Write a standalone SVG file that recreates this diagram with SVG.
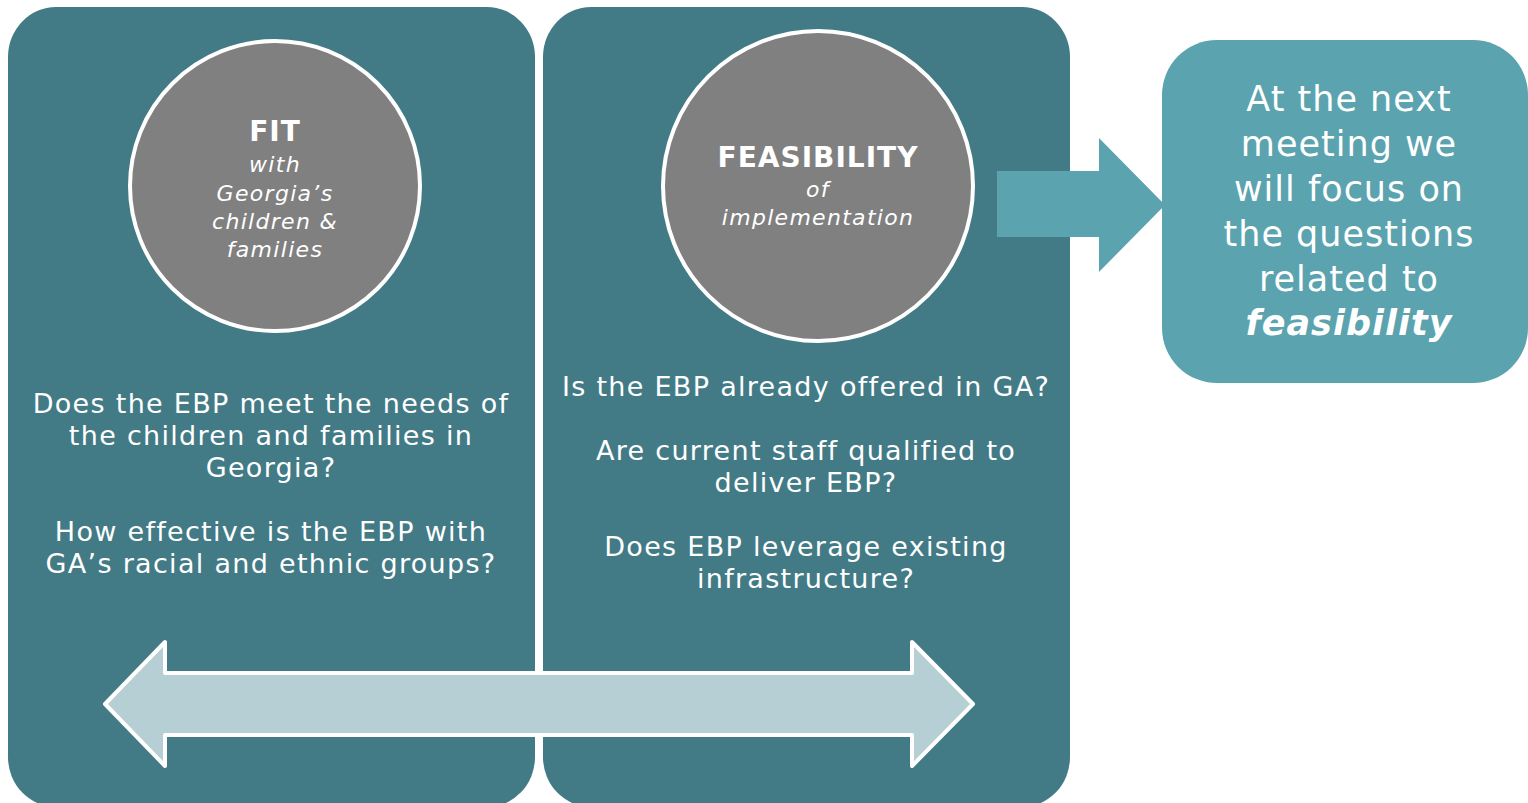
<svg xmlns="http://www.w3.org/2000/svg" width="1528" height="803" viewBox="0 0 1528 803">
<style>
.panel{fill:#427B86}
.circ{fill:#808080;stroke:#fff;stroke-width:4}
.t{font-family:"DejaVu Sans","Open Sans",sans-serif;fill:#fff;text-anchor:middle}
.q{font-size:27px;letter-spacing:1.3px}
.h{font-size:28px;font-weight:700;letter-spacing:1px}
.s{font-size:22px;font-style:italic;letter-spacing:1.3px}
.b{font-size:35px;letter-spacing:1px}
</style>
<rect width="1528" height="803" fill="#fff"/>
<g id="panel-fit">
<rect class="panel" x="8" y="7" width="527" height="800" rx="48" ry="50"/>
<circle class="circ" cx="275" cy="186" r="145"/>
<text class="t h" x="275" y="141">FIT</text>
<text class="t s" x="275" y="172">with</text>
<text class="t s" x="275" y="201">Georgia’s</text>
<text class="t s" x="275" y="229">children &amp;</text>
<text class="t s" x="275" y="257">families</text>
<text class="t q" x="271" y="413">Does the EBP meet the needs of</text>
<text class="t q" x="271" y="445">the children and families in</text>
<text class="t q" x="271" y="477">Georgia?</text>
<text class="t q" x="271" y="541">How effective is the EBP with</text>
<text class="t q" x="271" y="573">GA’s racial and ethnic groups?</text>
</g>
<g id="panel-feasibility">
<rect class="panel" x="543" y="7" width="527" height="800" rx="48" ry="50"/>
<circle class="circ" cx="818" cy="186" r="155"/>
<text class="t h" x="818" y="167">FEASIBILITY</text>
<text class="t s" x="818" y="197">of</text>
<text class="t s" x="818" y="225">implementation</text>
<text class="t q" x="806" y="396">Is the EBP already offered in GA?</text>
<text class="t q" x="806" y="460">Are current staff qualified to</text>
<text class="t q" x="806" y="492">deliver EBP?</text>
<text class="t q" x="806" y="556">Does EBP leverage existing</text>
<text class="t q" x="806" y="588">infrastructure?</text>
</g>
<g id="next-meeting">
<rect x="1162" y="40" width="366" height="343" rx="55" fill="#5BA3AF"/>
<text class="t b" x="1349" y="111">At the next</text>
<text class="t b" x="1349" y="156">meeting we</text>
<text class="t b" x="1349" y="201">will focus on</text>
<text class="t b" x="1349" y="246">the questions</text>
<text class="t b" x="1349" y="291">related to</text>
<text class="t b" x="1349" y="335" font-weight="700" font-style="italic" letter-spacing="0">feasibility</text>
</g>
<g id="connectors">
<polygon points="997,171 1099,171 1099,138 1165,205 1099,272 1099,237 997,237" fill="#5BA3AF"/>
<polygon points="105,704 165,642 165,673 912,673 912,642 973,704 912,766 912,735 165,735 165,766" fill="#B5CFD4" stroke="#fff" stroke-width="4" stroke-linejoin="round"/>
</g>
</svg>
